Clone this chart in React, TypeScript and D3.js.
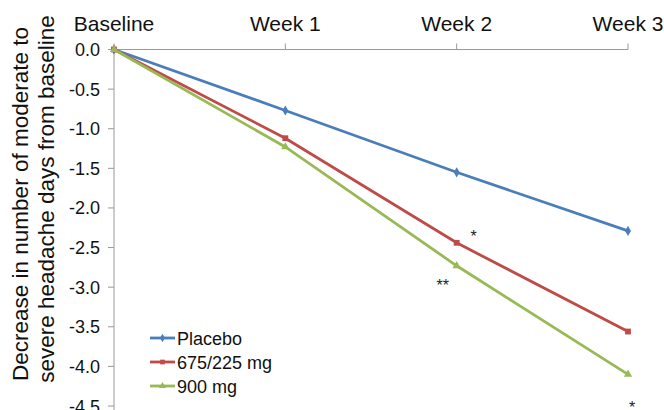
import React from 'react';
import * as d3 from 'd3';

const weeks = ['Baseline', 'Week 1', 'Week 2', 'Week 3'];
const yTicks = [0, -0.5, -1, -1.5, -2, -2.5, -3, -3.5, -4, -4.5];

const placebo = [0, -0.77, -1.55, -2.29];
const dose675 = [0, -1.12, -2.44, -3.56];
const dose900 = [0, -1.23, -2.73, -4.1];

const seriesNames = ['Placebo', '675/225 mg', '900 mg'];
const colors = ['#4a7ebb', '#be4b48', '#98b954'];
const markers = [d3.symbolDiamond, d3.symbolSquare, d3.symbolTriangle];

// significance marks: [week index, value, label]
const stars: [number, number, string][] = [
  [2, -2.31, '*'],
  [2, -2.94, '**'],
  [3, -4.48, '*'],
];

const font = 'Liberation Sans, Arial, sans-serif';

export default function App() {
  const width = 664,
    height = 410;
  const margin = { top: 49.5, left: 114, right: 36, bottom: 4 };

  const x = d3
    .scalePoint()
    .domain(weeks)
    .range([margin.left, width - margin.right]);
  const y = d3
    .scaleLinear()
    .domain([0, -4.5])
    .range([margin.top, height - margin.bottom]);

  const line = d3
    .line<number>()
    .x((d, i) => x(weeks[i]) as number)
    .y((d) => y(d));

  const allSeries = [placebo, dose675, dose900];
  const starOffsets = [17, -14, 4];

  return (
    <svg
      width={width}
      height={height}
      style={{ position: 'absolute', left: 0, top: 0, background: '#fff' }}
      fontFamily={font}
    >
      {/* top category axis */}
      <line x1={margin.left} x2={width - margin.right} y1={y(0)} y2={y(0)} stroke="#999" />
      {weeks.map((w) => (
        <g key={w}>
          <line x1={x(w)} x2={x(w)} y1={y(0)} y2={y(0) - 6} stroke="#999" />
          <text x={x(w)} y={31} textAnchor="middle" fontSize={21} fill="#111">
            {w}
          </text>
        </g>
      ))}

      {/* left value axis */}
      <line x1={margin.left} x2={margin.left} y1={y(0)} y2={height} stroke="#999" />
      {yTicks.map((t) => (
        <g key={t}>
          <line x1={margin.left - 6} x2={margin.left} y1={y(t)} y2={y(t)} stroke="#999" />
          <text x={100} y={y(t) + 6.5} textAnchor="end" fontSize={18} fill="#111">
            {d3.format('.1f')(t).replace('−', '-')}
          </text>
        </g>
      ))}

      <text
        transform={`translate(28, 204) rotate(-90)`}
        textAnchor="middle"
        fontSize={22.5}
        fill="#111"
      >
        Decrease in number of moderate to
      </text>
      <text
        transform={`translate(54, 199) rotate(-90)`}
        textAnchor="middle"
        fontSize={22.5}
        fill="#111"
      >
        severe headache days from baseline
      </text>

      {/* series */}
      {allSeries.map((s, si) => (
        <g key={si}>
          <path d={line(s) || ''} fill="none" stroke={colors[si]} strokeWidth={2.8} />
          {s.map((v, i) => (
            <path
              key={i}
              transform={`translate(${x(weeks[i])}, ${y(v)})`}
              d={d3.symbol().type(markers[si]).size(si === 1 ? 34 : 30)() || ''}
              fill={colors[si]}
            />
          ))}
        </g>
      ))}

      {/* stars */}
      {stars.map(([wi, v, lbl], i) => (
        <text
          key={i}
          x={(x(weeks[wi]) as number) + starOffsets[i]}
          y={y(v) + 9}
          textAnchor="middle"
          fontSize={16}
          fill="#222"
        >
          {lbl}
        </text>
      ))}

      {/* legend */}
      {seriesNames.map((n, i) => (
        <g key={n} transform={`translate(150, ${338 + i * 24})`}>
          <line x1={0} x2={25} y1={0} y2={0} stroke={colors[i]} strokeWidth={2.8} />
          <path
            transform="translate(12.5, 0)"
            d={d3.symbol().type(markers[i]).size(22)() || ''}
            fill={colors[i]}
          />
          <text x={27} y={6.5} fontSize={18} fill="#111">
            {n}
          </text>
        </g>
      ))}
    </svg>
  );
}
